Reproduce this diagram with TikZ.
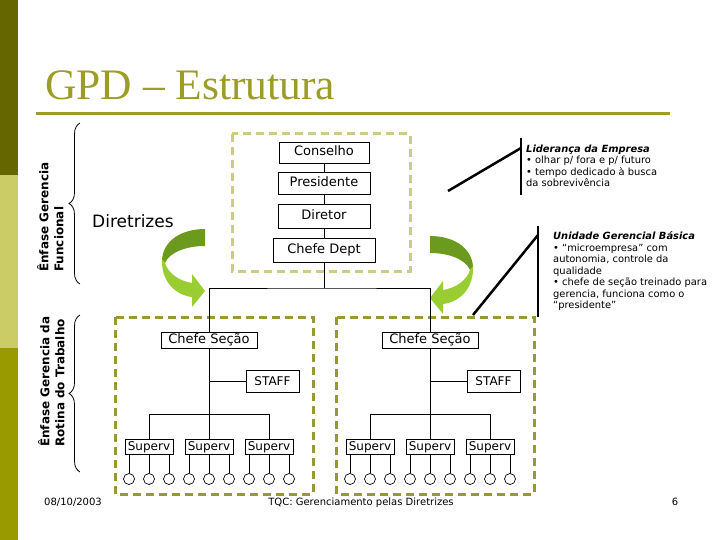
\documentclass[tikz,border=0pt]{standalone}
\usepackage{fontspec}
\setmainfont{DejaVu Sans}
\newfontfamily\titulofonte{Liberation Serif}
\usetikzlibrary{decorations.pathreplacing}
\definecolor{olivaEscura}{HTML}{666600}
\definecolor{olivaClara}{HTML}{CCCC66}
\definecolor{olivaMedia}{HTML}{999900}
\definecolor{tituloOliva}{HTML}{9C9C28}
\definecolor{tracoClaro}{HTML}{CCCC88}
\definecolor{tracoEscuro}{HTML}{999933}
\definecolor{setaEscura}{HTML}{6B9A1F}
\definecolor{setaClara}{HTML}{9ACD32}

% seta curva 3D, origem no canto superior da cauda
\newcommand\setacurva{%
  \fill[setaEscura] (0,0) .. controls (-24,0) and (-42,12) .. (-43,31) -- (-40,34)
    .. controls (-36,24) and (-20,17) .. (0,17) -- cycle;
  \fill[setaClara] (-43,30) .. controls (-44,52) and (-30,66) .. (-13,68) -- (-13,78)
    -- (0,62) -- (-13,45) -- (-13,54) .. controls (-26,52) and (-37,44) .. (-40,34) -- cycle;
}

\begin{document}
\begin{tikzpicture}[x=1pt, y=-1pt,
    cargo/.style={draw, line width=0.8, fill=white, font=\fontsize{13}{15}\selectfont,
      inner sep=2, text height=9.5, text depth=2.5},
    secao/.style={cargo, minimum width=96, minimum height=16, inner ysep=1.5},
    staffbox/.style={draw, line width=0.8, fill=white, font=\fontsize{12}{14}\selectfont,
      minimum width=53, minimum height=22, inner sep=1},
    superv/.style={draw, line width=0.8, fill=white, font=\fontsize{12}{14}\selectfont,
      minimum width=48, minimum height=15, inner sep=1, text height=9, text depth=2.5},
    membro/.style={circle, draw, line width=0.7, minimum size=11, inner sep=0},
    grupo/.style={dash pattern=on 8 off 5, line width=3},
    chave/.style={decorate, decoration={brace, amplitude=11}, line width=0.8},
    guia/.style={line width=2.5},
    rotulo/.style={rotate=90, anchor=north west, align=left, inner sep=0,
      font=\bfseries\fontsize{12}{15}\selectfont},
    nota/.style={anchor=north west, align=left, inner sep=0, font=\fontsize{9.9}{11.5}\selectfont},
    rodape/.style={anchor=base, inner sep=0, font=\fontsize{10}{11}\selectfont}]
  \useasboundingbox (0,0) rectangle (720,540);
  \fill[white] (0,0) rectangle (720,540);

  % --- faixa lateral e titulo ---
  \fill[olivaEscura] (0,0) rectangle (18,175);
  \fill[olivaClara] (0,175) rectangle (18,348);
  \fill[olivaMedia] (0,348) rectangle (18,540);
  \node[anchor=base west, inner sep=0, text=tituloOliva, font=\titulofonte\fontsize{43.5}{48}\selectfont]
    (titulo) at (45,100) {GPD – Estrutura};
  \draw[tituloOliva, line width=3] (36,114) -- (670,114);

  % --- enfases a esquerda ---
  \node[rotulo] (enfaseFuncional) at (37,272) {Ênfase Gerencia\\Funcional};
  \node[rotulo] (enfaseRotina) at (38,447) {Ênfase Gerencia da\\Rotina do Trabalho};
  \draw[chave] (80,284) -- (80,123);
  \draw[chave] (80,472) -- (80,315);

  % --- lideranca ---
  \draw[grupo, tracoClaro] (232,134) rectangle (410,271);
  \node[cargo, minimum width=90, minimum height=21] (conselho) at (324,152.5) {Conselho};
  \node[cargo, minimum width=92, minimum height=22] (presidente) at (324,183) {Presidente};
  \node[cargo, minimum width=92, minimum height=24] (diretor) at (324,216) {Diretor};
  \node[cargo, minimum width=102, minimum height=24] (chefeDept) at (324,250) {Chefe Dept};
  \draw[line width=0.8] (conselho) -- (presidente);
  \draw[line width=0.8] (presidente) -- (diretor);
  \draw[line width=0.8] (diretor) -- (chefeDept);
  \coordinate (juncao) at (324,288);
  \draw[line width=0.8] (chefeDept) -- (juncao);

  \node[anchor=base west, inner sep=0, font=\fontsize{17}{20}\selectfont] (diretrizes) at (92,227) {Diretrizes};
  \begin{scope}[shift={(205,229)}]
    \setacurva
  \end{scope}
  \begin{scope}[shift={(430,236)}, xscale=-1]
    \setacurva
  \end{scope}

  % --- unidades gerenciais basicas ---
  \foreach \bx/\s in {115/a, 336/b}{
    \begin{scope}[shift={(\bx,0)}]
      \draw[grupo, tracoEscuro] (0,317) rectangle (198,494);
      \node[secao] (secao\s) at (94,340) {Chefe Seção};
      \node[staffbox] (staff\s) at (157.5,381.5) {STAFF};
      \coordinate (ramo\s) at (94,381.5);
      \coordinate (barra\s) at (94,414);
      \draw[line width=0.8] (secao\s) -- (barra\s);
      \draw[line width=0.8] (ramo\s) -- (staff\s);
      \foreach \i/\sx in {1/34, 2/94, 3/154}{
        \node[superv] (sup\s\i) at (\sx,447) {Superv};
        \draw[line width=0.8] (barra\s) -| (sup\s\i);
        \foreach \j/\dx in {1/-20, 2/0, 3/20}{
          \node[membro] (membro\s\i\j) at ({\sx+\dx},479) {};
          \draw[line width=0.7] (sup\s\i.south -| membro\s\i\j) -- (membro\s\i\j);
        }
      }
    \end{scope}
  }
  \draw[line width=0.8] (secaoa.north) |- (juncao) -| (secaob.north);

  % --- notas a direita ---
  \coordinate (lidTopo) at (521,138);
  \coordinate (lidBase) at (521,195);
  \coordinate (lidPe) at (448,191);
  \coordinate (lidCanto) at (521,148);
  \draw[guia] (lidTopo) -- (lidBase);
  \draw[guia] (lidPe) -- (lidCanto);
  \node[nota] (notaLideranca) at (526,144.5)
    {{\bfseries\itshape Liderança da Empresa}\\• olhar p/ fora e p/ futuro\\• tempo dedicado à busca\\da sobrevivência};

  \coordinate (ugbTopo) at (538,226);
  \coordinate (ugbBase) at (538,317);
  \coordinate (ugbPe) at (473,315);
  \coordinate (ugbCanto) at (538,235);
  \draw[guia] (ugbTopo) -- (ugbBase);
  \draw[guia] (ugbPe) -- (ugbCanto);
  \node[nota] (notaUnidade) at (553,231.5)
    {{\bfseries\itshape Unidade Gerencial Básica}\\• “microempresa” com\\autonomia, controle da\\qualidade\\• chefe de seção treinado para\\gerencia, funciona como o\\“presidente”};

  % --- rodape ---
  \node[rodape, anchor=base west] (data) at (44,505) {08/10/2003};
  \node[rodape] (tema) at (361,505) {TQC: Gerenciamento pelas Diretrizes};
  \node[rodape] (pagina) at (675,505) {6};
\end{tikzpicture}
\end{document}
